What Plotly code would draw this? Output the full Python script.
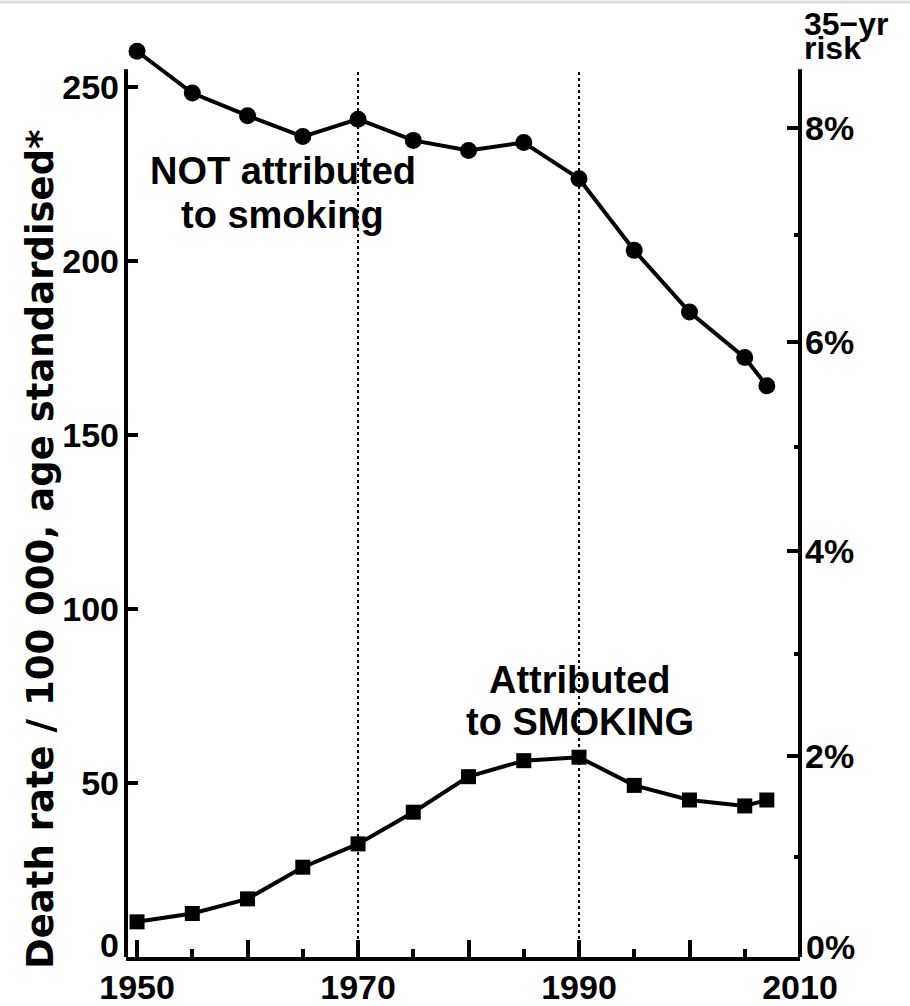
import math
import plotly.graph_objects as go

# ---- data ----
years = [1950, 1955, 1960, 1965, 1970, 1975, 1980, 1985, 1990, 1995, 2000, 2005, 2007]
not_smoking = [260.2, 248.2, 241.7, 235.7, 240.7, 234.6, 231.7, 234.0, 223.6, 203.0, 185.3, 172.2, 164.1]
smoking = [10.1, 12.5, 16.7, 25.8, 32.5, 41.6, 51.8, 56.4, 57.4, 49.3, 45.1, 43.4, 45.1]

x_major = [1950, 1960, 1970, 1980, 1990, 2000, 2010]
x_labels = ["1950", "", "1970", "", "1990", "", "2010"]
x_minor = [1955, 1965, 1975, 1985, 1995, 2005]

y_ticks = [0, 50, 100, 150, 200, 250]
y_labels = ["", "50", "100", "150", "200", "250"]   # "0" is set slightly above the corner
risk_major = [0, 2, 4, 6, 8]          # percent
risk_labels = ["", "2%", "4%", "6%", "8%"]          # "0%" likewise
risk_minor = [1, 3, 5, 7]
risk_years = 35
marker_lines = [1970, 1990]

def risk_to_rate(p):
    return -math.log(1 - p / 100.0) / risk_years * 1e5

FONT = "Liberation Sans, Arial, sans-serif"
Y_RANGE = [0, 262]
AXIS_TOP = 255

fig = go.Figure()
fig.add_trace(go.Scatter(
    x=years, y=not_smoking, mode="lines+markers", cliponaxis=False,
    line=dict(color="black", width=4),
    marker=dict(symbol="circle", size=17, color="black"),
    showlegend=False, hoverinfo="skip"))
# the second series is drawn against the right-hand axis, which shares the same range
fig.add_trace(go.Scatter(
    x=years, y=smoking, mode="lines+markers", cliponaxis=False, yaxis="y2",
    line=dict(color="black", width=4),
    marker=dict(symbol="square", size=15, color="black"),
    showlegend=False, hoverinfo="skip"))

tickfont = dict(family=FONT, size=34, color="black", weight="bold")

fig.update_layout(
    width=910, height=1006,
    margin=dict(l=126, r=110, t=45, b=49, autoexpand=False),
    paper_bgcolor="white", plot_bgcolor="white",
    xaxis=dict(
        range=[1949, 2010], showgrid=False, zeroline=False, automargin=False,
        showline=True, linecolor="black", linewidth=4,
        tickmode="array", tickvals=x_major, ticktext=x_labels,
        ticks="inside", ticklen=17, tickwidth=4, tickcolor="black",
        tickfont=tickfont, ticklabelstandoff=-3,
        minor=dict(tickmode="array", tickvals=x_minor, ticks="inside",
                   ticklen=8, tickwidth=4, tickcolor="black"),
    ),
    yaxis=dict(
        range=Y_RANGE, showgrid=False, zeroline=False, showline=False, automargin=False,
        tickmode="array", tickvals=y_ticks, ticktext=y_labels,
        ticks="inside", ticklen=12, tickwidth=4, tickcolor="black",
        tickfont=tickfont, ticklabelstandoff=6,
    ),
    yaxis2=dict(
        range=Y_RANGE, overlaying="y", side="right", anchor="x", automargin=False,
        showgrid=False, zeroline=False, showline=False,
        tickmode="array", tickvals=[risk_to_rate(p) for p in risk_major],
        ticktext=risk_labels,
        ticks="inside", ticklen=13, tickwidth=4, tickcolor="black",
        tickfont=tickfont, ticklabelstandoff=4,
        minor=dict(tickmode="array", tickvals=[risk_to_rate(p) for p in risk_minor],
                   ticks="inside", ticklen=6, tickwidth=4, tickcolor="black"),
    ),
)

shapes = []
# vertical axis lines (stop at the top of the scale)
for xp in (0, 1):
    shapes.append(dict(type="line", xref="paper", yref="y", x0=xp, x1=xp,
                       y0=0, y1=AXIS_TOP, line=dict(color="black", width=4)))
# dotted reference lines
for yr in marker_lines:
    shapes.append(dict(type="line", xref="x", yref="y", x0=yr, x1=yr,
                       y0=0, y1=AXIS_TOP, line=dict(color="black", width=2, dash="dot"),
                       layer="below"))
# faint border at the very top of the image
shapes.append(dict(type="line", xref="paper", yref="paper", x0=-0.2, x1=1.2,
                   y0=(957 - 2) / 912, y1=(957 - 2) / 912,
                   line=dict(color="#dcdcdc", width=3)))
fig.update_layout(shapes=shapes)

ann_font = dict(family=FONT, size=38, color="black", weight="bold")
risk_font = dict(family=FONT, size=32, color="black", weight="bold")
annotations = [
    dict(text="NOT attributed", x=1963.2, y=225.8, xref="x", yref="y",
         showarrow=False, font=ann_font, xanchor="center", yanchor="middle"),
    dict(text="to smoking", x=1963.2, y=213.2, xref="x", yref="y",
         showarrow=False, font=ann_font, xanchor="center", yanchor="middle"),
    dict(text="Attributed", x=1990.1, y=79.6, xref="x", yref="y",
         showarrow=False, font=ann_font, xanchor="center", yanchor="middle"),
    dict(text="to SMOKING", x=1990.1, y=67.5, xref="x", yref="y",
         showarrow=False, font=ann_font, xanchor="center", yanchor="middle"),
    dict(text="35\u2212yr", x=1 + 2 / 674, y=(957 - 24) / 912, xref="paper", yref="paper",
         showarrow=False, font=risk_font, xanchor="left", yanchor="middle"),
    dict(text="risk", x=1 + 2 / 674, y=(957 - 48) / 912, xref="paper", yref="paper",
         showarrow=False, font=risk_font, xanchor="left", yanchor="middle"),
    # zero labels of both vertical scales, lifted clear of the year labels
    dict(text="0", x=(121 - 126) / 674, y=(957 - 945) / 912, xref="paper", yref="paper",
         showarrow=False, font=tickfont, xanchor="right", yanchor="middle"),
    dict(text="0%", x=1 + 4 / 674, y=(957 - 947) / 912, xref="paper", yref="paper",
         showarrow=False, font=tickfont, xanchor="left", yanchor="middle"),
    dict(text="Death rate / 100 000, age standardised*", textangle=-90,
         x=(40 - 126) / 674, y=(957 - 549) / 912, xref="paper", yref="paper",
         showarrow=False,
         font=dict(family="DejaVu Sans, Liberation Sans, sans-serif", size=37,
                   color="black", weight="bold"),
         xanchor="center", yanchor="middle"),
]
fig.update_layout(annotations=annotations)

# remove the browser's default page margin so the figure fills the window exactly
fig.write_html("out.html", config={"displayModeBar": False},
               post_script="document.body.style.margin='0';")
